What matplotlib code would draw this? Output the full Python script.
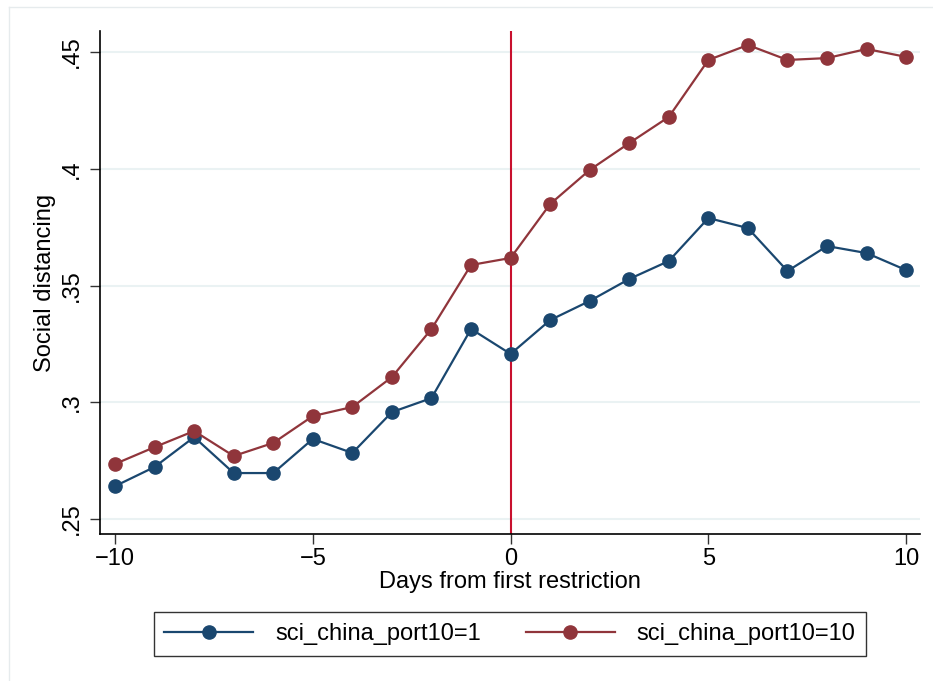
import matplotlib
matplotlib.use("Agg")
import matplotlib.pyplot as plt
from matplotlib.lines import Line2D

plt.rcParams['font.family'] = ['Liberation Sans', 'DejaVu Sans']

days = list(range(-10, 11))
port1 = [0.2641, 0.2723, 0.2851, 0.2697, 0.2697, 0.2843, 0.2783, 0.2958, 0.3018, 0.3314,
         0.3207, 0.3352, 0.3434, 0.3528, 0.3605, 0.3789, 0.3746, 0.3562, 0.3669, 0.3639, 0.3566]
port10 = [0.2736, 0.2808, 0.2877, 0.2770, 0.2826, 0.2941, 0.2980, 0.3108, 0.3314, 0.3588,
          0.3618, 0.3849, 0.3995, 0.4110, 0.4222, 0.4466, 0.4530, 0.4466, 0.4474, 0.4513, 0.4479]
labels = ["sci_china_port10=1", "sci_china_port10=10"]
yticks = [0.25, 0.30, 0.35, 0.40, 0.45]
yticklabels = [".25", ".3", ".35", ".4", ".45"]
xticks = [-10, -5, 0, 5, 10]
xticklabels = ["\u221210", "\u22125", "0", "5", "10"]

W, H = 933, 681
fig = plt.figure(figsize=(W / 100, H / 100), dpi=100)
# light outer frame (left and top edges visible)
fig.add_artist(Line2D([8.5 / W, 8.5 / W], [0, 1 - 7 / H], transform=fig.transFigure,
                      color='#e6ebed', linewidth=1.0))
fig.add_artist(Line2D([8.5 / W, 1], [1 - 7 / H, 1 - 7 / H], transform=fig.transFigure,
                      color='#e6ebed', linewidth=1.0))
ax = fig.add_axes([100 / W, 1 - 534 / H, 820 / W, 503 / H])

blue = '#1a476f'
red = '#90353b'
ax.plot(days, port1, color=blue, marker='o', markersize=9.5, linewidth=1.6, label=labels[0], zorder=3)
ax.plot(days, port10, color=red, marker='o', markersize=9.5, linewidth=1.6, label=labels[1], zorder=3)
ax.axvline(0, color='#c8102e', linewidth=1.5, zorder=2)

ax.set_xlim(-10.38, 10.35)
ax.set_ylim(0.2436, 0.459)
ax.set_yticks(yticks)
ax.set_yticklabels(yticklabels, rotation=90, va='center')
ax.set_xticks(xticks)
ax.set_xticklabels(xticklabels)
ax.tick_params(labelsize=17, length=7, width=1.0, color='#333333')
ax.tick_params(axis='y', pad=5)
ax.tick_params(axis='x', pad=3)
ax.grid(axis='y', color='#eaf2f3', linewidth=1.5)
ax.set_axisbelow(True)
for s in ['top', 'right']:
    ax.spines[s].set_visible(False)
for s in ['left', 'bottom']:
    ax.spines[s].set_linewidth(1.2)
ax.set_xlabel("Days from first restriction", fontsize=17, labelpad=1)
ax.set_ylabel("Social distancing", fontsize=17, labelpad=4)

leg = fig.legend(loc='center', bbox_to_anchor=(510 / W, 1 - 634 / H), ncol=2, fontsize=17,
                 frameon=True, fancybox=False, edgecolor='black', handlelength=3.77,
                 columnspacing=1.9, borderpad=0.45, handletextpad=0.93)
leg.get_frame().set_linewidth(1.0)

fig.savefig("out.png", dpi=100)
